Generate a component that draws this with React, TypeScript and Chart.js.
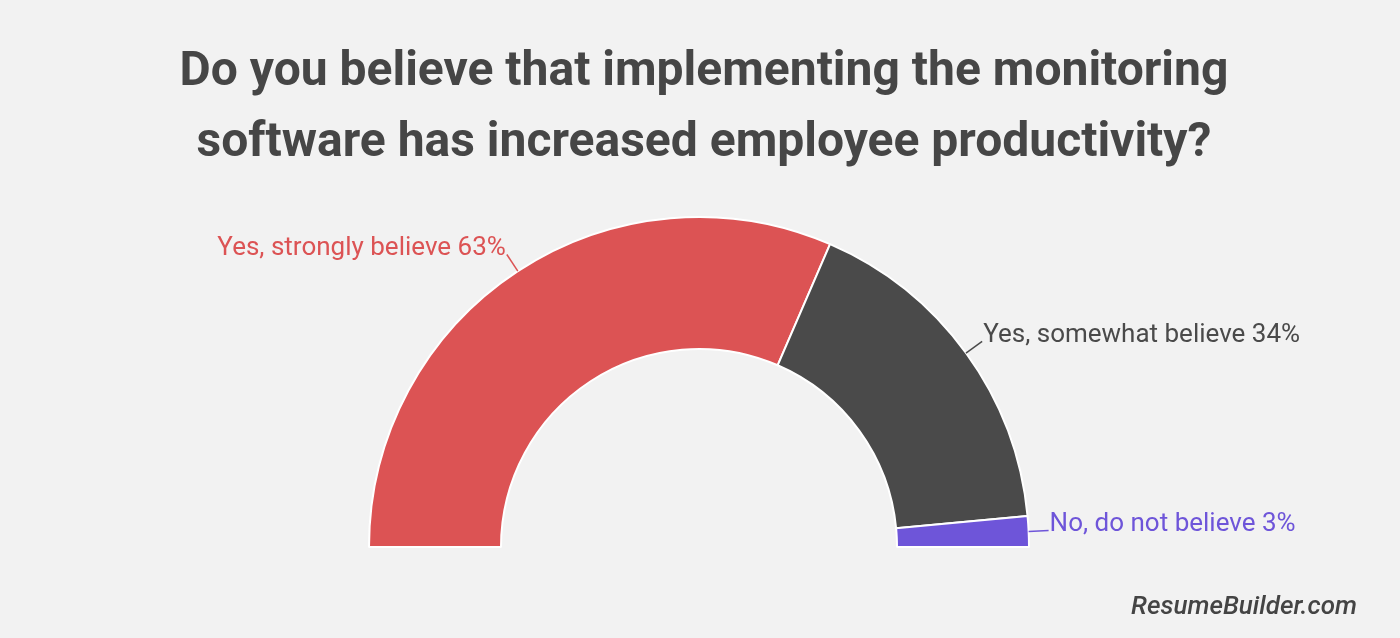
import React, { useEffect, useRef } from "react";
import { Chart, registerables } from "chart.js";

Chart.register(...registerables);

const categories = ["Yes, strongly believe", "Yes, somewhat believe", "No, do not believe"];
const values = [63, 34, 3];
const colors = ["#dc5354", "#4a4a4a", "#6e55d9"];
const titleLines = [
  "Do you believe that implementing the monitoring",
  "software has increased employee productivity?",
];
const sourceText = "ResumeBuilder.com";

const labelPlugin = {
  id: "customLabels",
  afterDraw(chart: any) {
    const ctx = chart.ctx;
    const meta = chart.getDatasetMeta(0);
    ctx.save();
    // title
    ctx.fillStyle = "#464646";
    ctx.font = "bold 48px Roboto";
    ctx.textAlign = "center";
    ctx.textBaseline = "alphabetic";
    ctx.fillText(titleLines[0], 704, 85);
    ctx.fillText(titleLines[1], 704, 156);
    // source
    ctx.font = "italic 500 26px Roboto";
    ctx.textAlign = "right";
    ctx.fillStyle = "#444444";
    ctx.fillText(sourceText, 1357, 614);

    ctx.font = "26px Roboto";
    meta.data.forEach((arc: any, i: number) => {
      const p = arc.getProps(["x", "y", "startAngle", "endAngle", "outerRadius"], true);
      const mid = (p.startAngle + p.endAngle) / 2;
      const r1 = p.outerRadius;
      const r2 = p.outerRadius + 20;
      const sx = p.x + Math.cos(mid) * r1;
      const sy = p.y + Math.sin(mid) * r1;
      const ex = p.x + Math.cos(mid) * r2;
      const ey = p.y + Math.sin(mid) * r2;
      ctx.strokeStyle = colors[i];
      ctx.lineWidth = 1.5;
      ctx.beginPath();
      ctx.moveTo(sx, sy);
      ctx.lineTo(ex, ey);
      ctx.stroke();
      const right = Math.cos(mid) >= 0;
      ctx.fillStyle = colors[i];
      ctx.textAlign = right ? "left" : "right";
      ctx.textBaseline = "alphabetic";
      ctx.fillText(`${categories[i]} ${values[i]}%`, ex + (right ? 1 : -1), ey + 0.5);
    });
    ctx.restore();
  },
};

export default function App() {
  const ref = useRef<HTMLCanvasElement>(null);
  useEffect(() => {
    document.body.style.margin = "0";
    document.body.style.background = "#f2f2f2";
    const chart = new Chart(ref.current!, {
      type: "doughnut",
      data: {
        labels: categories,
        datasets: [
          {
            data: values,
            backgroundColor: colors,
            borderColor: "#ffffff",
            borderWidth: 2,
          },
        ],
      },
      options: {
        responsive: false,
        animation: false,
        rotation: -90,
        circumference: 180,
        cutout: "60%",
        radius: 330,
        layout: { padding: { left: 369, right: 371, top: 217, bottom: 91 } },
        plugins: {
          legend: { display: false },
          tooltip: { enabled: false },
          title: { display: false },
        },
      },
      plugins: [labelPlugin],
    });
    return () => chart.destroy();
  }, []);
  return (
    <div style={{ position: "fixed", left: 0, top: 0, width: 1400, height: 638, background: "#f2f2f2" }}>
      <canvas ref={ref} width={1400} height={638} style={{ display: "block" }} />
    </div>
  );
}
